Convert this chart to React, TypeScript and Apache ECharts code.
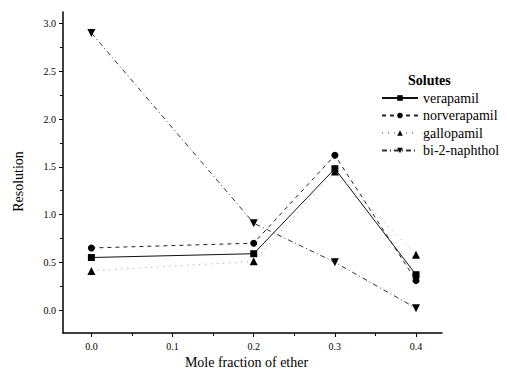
import React, { useEffect, useRef } from "react";
import * as echarts from "echarts";

const xValues = [0.0, 0.2, 0.3, 0.4];
const verapamil = [0.55, 0.59, 1.48, 0.37];
const norverapamil = [0.65, 0.7, 1.62, 0.31];
const gallopamil = [0.41, 0.51, 1.45, 0.58];
const naphthol = [2.9, 0.91, 0.5, 0.02];
const xTicks = [0, 0.1, 0.2, 0.3, 0.4];
const xMinorTicks = [0.05, 0.15, 0.25, 0.35];
const yTicks = [0, 0.5, 1, 1.5, 2, 2.5, 3];
const yMinorTicks = [-0.25, 0.25, 0.75, 1.25, 1.75, 2.25, 2.75];

const FONT = "Liberation Serif";

export default function App() {
  const ref = useRef<HTMLDivElement>(null);
  useEffect(() => {
    document.body.style.margin = "0";
    if (!ref.current) return;
    const chart = echarts.init(ref.current, null, { renderer: "svg" });
    const pair = (ys: number[]) => xValues.map((x, i) => [x, ys[i]]);
    const xmin = -0.035, xmax = 0.432, ymin = -0.24, ymax = 3.12;
    chart.setOption({
      animation: false,
      backgroundColor: "#fff",
      textStyle: { fontFamily: FONT, color: "#000" },
      title: {
        text: "Solutes",
        left: 403,
        top: 68,
        textStyle: { fontFamily: FONT, fontSize: 14, fontWeight: "bold", color: "#000" },
      },
      legend: {
        orient: "vertical",
        left: 376,
        top: 86,
        itemWidth: 36,
        itemHeight: 7,
        itemGap: 3.5,
        textStyle: { fontFamily: FONT, fontSize: 14, color: "#000" },
        data: ["verapamil", "norverapamil", "gallopamil", "bi-2-naphthol"],
      },
      grid: { left: 63, right: 65, top: 12, bottom: 43 },
      xAxis: [
        {
          type: "value",
          min: xmin,
          max: xmax,
          name: "Mole fraction of ether",
          nameLocation: "middle",
          nameGap: 22,
          nameTextStyle: { fontFamily: FONT, fontSize: 14, color: "#000", padding: [0, 12, 0, 0] },
          axisLine: { show: true, onZero: false, lineStyle: { color: "#000", width: 1.5 } },
          axisTick: { show: true, length: 4, customValues: xTicks, lineStyle: { color: "#000" } },
          axisLabel: {
            customValues: xTicks,
            margin: 8,
            fontSize: 10,
            fontFamily: FONT,
            color: "#000",
            formatter: (v: number) => v.toFixed(1),
          },
          splitLine: { show: false },
        },
        {
          type: "value",
          min: xmin,
          max: xmax,
          position: "bottom",
          axisLine: { show: false, onZero: false },
          axisTick: { show: true, length: 3, customValues: xMinorTicks, lineStyle: { color: "#000" } },
          axisLabel: { show: false },
          splitLine: { show: false },
        },
      ],
      yAxis: [
        {
          type: "value",
          min: ymin,
          max: ymax,
          name: "Resolution",
          nameLocation: "middle",
          nameGap: 38,
          nameTextStyle: { fontFamily: FONT, fontSize: 14, color: "#000", padding: [0, 18, 0, 0] },
          axisLine: { show: true, onZero: false, lineStyle: { color: "#000", width: 1.5 } },
          axisTick: { show: true, length: 4, customValues: yTicks, lineStyle: { color: "#000" } },
          axisLabel: {
            customValues: yTicks,
            margin: 7,
            fontSize: 10,
            fontFamily: FONT,
            color: "#000",
            formatter: (v: number) => v.toFixed(1),
          },
          splitLine: { show: false },
        },
        {
          type: "value",
          min: ymin,
          max: ymax,
          position: "left",
          axisLine: { show: false, onZero: false },
          axisTick: { show: true, length: 3, customValues: yMinorTicks, lineStyle: { color: "#000" } },
          axisLabel: { show: false },
          splitLine: { show: false },
        },
      ],
      series: [
        {
          name: "verapamil",
          type: "line",
          data: pair(verapamil),
          symbol: "rect",
          symbolSize: 7,
          itemStyle: { color: "#000" },
          lineStyle: { color: "#111", width: 1, type: "solid" },
        },
        {
          name: "norverapamil",
          type: "line",
          data: pair(norverapamil),
          symbol: "circle",
          symbolSize: 7,
          itemStyle: { color: "#000" },
          lineStyle: { color: "#222", width: 1, type: [4, 4] },
        },
        {
          name: "gallopamil",
          type: "line",
          data: pair(gallopamil),
          symbol: "triangle",
          symbolSize: 8,
          itemStyle: { color: "#000" },
          lineStyle: { color: "#999", width: 1, type: [1, 5] },
        },
        {
          name: "bi-2-naphthol",
          type: "line",
          data: pair(naphthol),
          symbol: "triangle",
          symbolRotate: 180,
          symbolSize: 8,
          itemStyle: { color: "#000" },
          lineStyle: { color: "#333", width: 1, type: [5, 3, 1, 3] },
        },
      ],
    });
    return () => chart.dispose();
  }, []);
  return <div ref={ref} style={{ width: 507, height: 376 }} />;
}
